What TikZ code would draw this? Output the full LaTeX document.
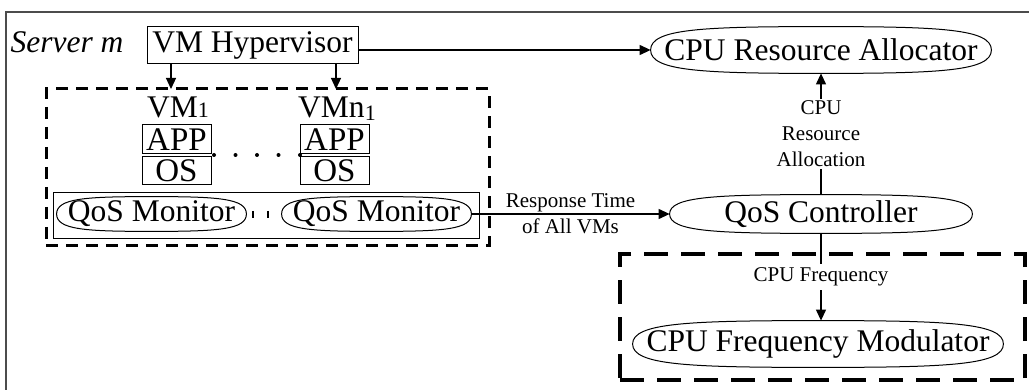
\documentclass[tikz,border=0pt]{standalone}
\usepackage{fontspec}
\setmainfont{Liberation Serif}
\usetikzlibrary{arrows.meta, calc, positioning, shapes.geometric}
\newcommand{\figbig}{\fontsize{15.75}{19}\selectfont}
\newcommand{\figsmall}{\fontsize{10.5}{13}\selectfont}
\newcommand{\figsub}{\fontsize{11}{11}\selectfont}
\tikzstyle{arrow} = [line width=0.6pt,->,>={Triangle[length=5.5pt,width=5pt]}]
\tikzset{
  box/.style   = {draw, rectangle, line width=0.5pt, inner sep=0pt, font=\figbig},
  oval/.style  = {rectangle, inner sep=0pt, font=\figbig},
  group/.style = {draw, dashed, inner sep=0pt},
  lbl/.style   = {font=\figsmall, align=center}
}
% flat oval outline round a node
\newcommand{\ovalline}[1]{%
  \draw[line width=0.5pt] (#1.west)
    .. controls ($(#1.west)!0.9!(#1.north west)$) and ($(#1.north)!0.7!(#1.north west)$) .. (#1.north)
    .. controls ($(#1.north)!0.7!(#1.north east)$) and ($(#1.east)!0.9!(#1.north east)$) .. (#1.east)
    .. controls ($(#1.east)!0.9!(#1.south east)$) and ($(#1.south)!0.7!(#1.south east)$) .. (#1.south)
    .. controls ($(#1.south)!0.7!(#1.south west)$) and ($(#1.west)!0.9!(#1.south west)$) .. (#1.west) -- cycle;}

\begin{document}
\begin{tikzpicture}[x=0.5pt, y=-0.5pt]
\useasboundingbox (0,0) rectangle (1029,390);

% Server frame
\draw[line width=0.8pt, black!70] (6,390) -- (6,12) -- (1029,12);

% Hypervisor
\node[box, minimum width=105.5pt, minimum height=18.5pt] (hyp) at (252.5,45.5) {VM Hypervisor};
\node[anchor=base east, font=\figbig\itshape] (srv) at ([xshift=-8pt]hyp.base west) {Server m};

% VMs
\node[group, line width=1.5pt, dash pattern=on 6pt off 4pt,
      minimum width=221.5pt, minimum height=78pt] (vms) at (267.5,167) {};
\coordinate (vmin1) at (171,89);
\coordinate (vmin2) at (336,89);

% VM 1
\node[anchor=base, font=\figbig] (vm1) at (178,118) {VM{\figsub 1}};
\node[box, font=\fontsize{16.5}{18}\selectfont, minimum width=34.5pt, minimum height=14.5pt] (app1) at (176.5,139.5) {APP};
\node[box, font=\fontsize{16.5}{18}\selectfont, minimum width=34.5pt, minimum height=14pt] (os1) at (176.5,171) {OS};

% VM n
\node[anchor=base, font=\figbig] (vmn) at (337,118) {VMn\raisebox{-1.5pt}{\figsub 1}};
\node[box, font=\fontsize{16.5}{18}\selectfont, minimum width=34.5pt, minimum height=14.5pt] (app2) at (334.5,139.5) {APP};
\node[box, font=\fontsize{16.5}{18}\selectfont, minimum width=34.5pt, minimum height=14pt] (os2) at (334.5,171) {OS};

\foreach \x in {214,235.5,257,278.5,300}
  \fill (\x,155) circle (1pt);

% QoS monitors
\node[box, minimum width=213pt, minimum height=22.5pt] (mons) at (266,215.5) {};
\node[oval, minimum width=94.5pt, minimum height=17pt] (mon1) at (151.5,214) {QoS Monitor};
\node[oval, minimum width=94.5pt, minimum height=17pt] (mon2) at (376.5,214) {QoS Monitor};
\ovalline{mon1}
\ovalline{mon2}
\foreach \x in {253,268}
  \draw[line width=1pt] (\x,211) -- (\x,218);

% Allocator and controller
\node[oval, minimum width=170pt, minimum height=23pt] (alloc) at (821,50) {CPU Resource Allocator};
\node[oval, minimum width=151pt, minimum height=19pt] (ctrl) at (821,214) {QoS Controller};
\ovalline{alloc}
\ovalline{ctrl}

% Frequency modulator
\node[group, line width=2pt, dash pattern=on 12pt off 6.5pt,
      minimum width=202.5pt, minimum height=63pt] (freq) at (822.5,317) {};
\node[oval, minimum width=185pt, minimum height=23pt] (modu) at (818,344) {CPU Frequency Modulator};
\ovalline{modu}

% Connectors
\draw[arrow] (hyp.south -| vmin1) -- (vmin1);
\draw[arrow] (hyp.south -| vmin2) -- (vmin2);
\draw[arrow] (hyp.east |- alloc.west) -- (alloc.west);
\draw[arrow] (mon2.east) -- node[lbl] {Response Time\\of All VMs} (ctrl.west);
\draw[arrow] (ctrl.north) -- node[lbl, fill=white, inner sep=1pt] {CPU\\Resource\\Allocation} (alloc.south);
\draw[arrow] (ctrl.south) -- node[lbl, fill=white, inner xsep=1pt, inner ysep=2pt] {CPU Frequency} (ctrl.south |- modu.north);

\end{tikzpicture}
\end{document}
